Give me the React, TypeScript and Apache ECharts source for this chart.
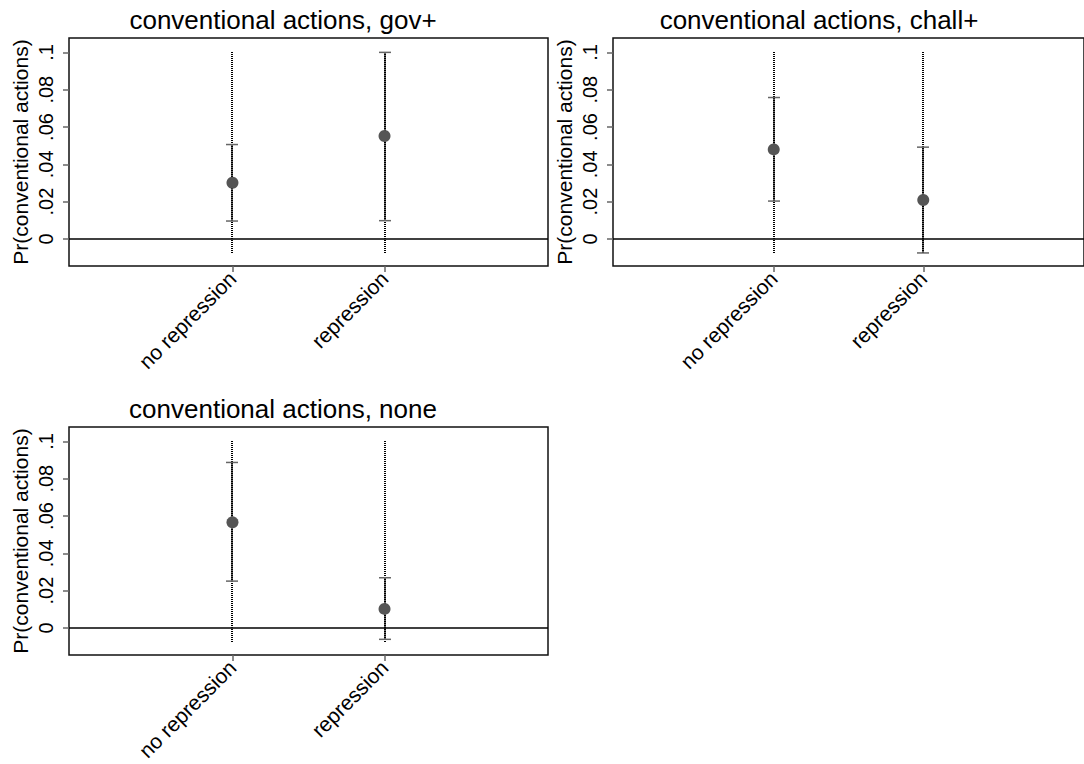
import React, { useEffect, useRef } from "react";
import * as echarts from "echarts";

const categories = ["no repression", "repression"];
const panelTitles = [
  "conventional actions, gov+",
  "conventional actions, chall+",
  "conventional actions, none",
];
const yAxisTitle = "Pr(conventional actions)";
const yTickValues = [0, 0.02, 0.04, 0.06, 0.08, 0.1];

// point estimates
const estGov = [0.0301, 0.0552];
const estChall = [0.048, 0.0209];
const estNone = [0.0566, 0.0102];
// inner interval (capped)
const ciLowGov = [0.0096, 0.0098];
const ciHighGov = [0.0506, 0.1];
const ciLowChall = [0.0203, -0.0075];
const ciHighChall = [0.0758, 0.0492];
const ciLowNone = [0.0251, -0.0061];
const ciHighNone = [0.0887, 0.0269];
// outer (dotted) interval
const wideLowGov = [-0.0077, -0.0077];
const wideHighGov = [0.1, 0.1];
const wideLowChall = [-0.0075, -0.0075];
const wideHighChall = [0.1, 0.1];
const wideLowNone = [-0.0073, -0.0073];
const wideHighNone = [0.1, 0.1];

const FONT = "'Liberation Sans', Arial, Helvetica, sans-serif";

const panels = [
  { title: panelTitles[0], est: estGov, cl: ciLowGov, ch: ciHighGov, wl: wideLowGov, wh: wideHighGov, left: 69, top: 38, titleX: 278 },
  { title: panelTitles[1], est: estChall, cl: ciLowChall, ch: ciHighChall, wl: wideLowChall, wh: wideHighChall, left: 613, top: 38, titleX: 814 },
  { title: panelTitles[2], est: estNone, cl: ciLowNone, ch: ciHighNone, wl: wideLowNone, wh: wideHighNone, left: 69, top: 427, titleX: 278 },
];

function fmtTick(v: number): string {
  if (Math.abs(v) < 1e-9) return "0";
  const s = String(Math.round(v * 1000) / 1000);
  return s.replace(/^0/, "");
}

export default function App() {
  const ref = useRef<HTMLDivElement>(null);
  useEffect(() => {
    if (!ref.current) return;
    const chart = echarts.init(ref.current, undefined, { renderer: "svg" });
    const grid: any[] = [];
    const xAxis: any[] = [];
    const yAxis: any[] = [];
    const series: any[] = [];
    const title: any[] = [];
    panels.forEach((p, i) => {
      grid.push({
        left: p.left,
        top: p.top,
        width: 479,
        height: 228,
        show: true,
        borderColor: "#111",
        borderWidth: 1.5,
        backgroundColor: "#fff",
        containLabel: false,
      });
      title.push({
        text: p.title,
        left: p.titleX,
        top: p.top - 36,
        textAlign: "center",
        textStyle: { fontFamily: FONT, fontSize: 26, fontWeight: "normal", color: "#000" },
      });
      xAxis.push({
        type: "value",
        gridIndex: i,
        position: "bottom",
        min: -1.075,
        max: 2.075,
        axisLine: { show: false, onZero: false },
        splitLine: { show: false },
        axisTick: {
          show: true,
          customValues: [0, 1],
          length: 6,
          lineStyle: { color: "#666", width: 1.5 },
        },
        axisLabel: {
          customValues: [0, 1],
          formatter: (v: number) => categories[Math.round(v)] ?? "",
          rotate: 45,
          fontSize: 21,
          fontFamily: FONT,
          color: "#000",
          margin: 9,
        },
      });
      yAxis.push({
        type: "value",
        gridIndex: i,
        position: "left",
        min: -0.0145,
        max: 0.1077,
        name: yAxisTitle,
        nameLocation: "middle",
        nameRotate: 90,
        nameGap: 38,
        nameTextStyle: { fontFamily: FONT, fontSize: 21, color: "#000" },
        axisLine: { show: false, onZero: false },
        splitLine: { show: false },
        axisTick: {
          show: true,
          customValues: yTickValues,
          length: 6,
          lineStyle: { color: "#666", width: 1.5 },
        },
        axisLabel: {
          customValues: yTickValues,
          formatter: fmtTick,
          rotate: 90,
          fontSize: 20,
          fontFamily: FONT,
          color: "#000",
          margin: 13,
        },
      });
      const barData = categories.map((_, k) => [k, p.wl[k], p.wh[k], p.cl[k], p.ch[k]]);
      series.push({
        type: "custom",
        xAxisIndex: i,
        yAxisIndex: i,
        data: barData,
        encode: { x: 0, y: [1, 2, 3, 4] },
        z: 2,
        renderItem: (params: any, api: any) => {
          const x = api.value(0);
          const c = (v: number) => api.coord([x, v]);
          const wl = c(api.value(1));
          const wh = c(api.value(2));
          const cl = c(api.value(3));
          const ch = c(api.value(4));
          const px = Math.round(wl[0]);
          const capHalf = 6;
          return {
            type: "group",
            children: [
              {
                type: "line",
                shape: { x1: px, y1: cl[1], x2: px, y2: ch[1] },
                style: { stroke: "#333", lineWidth: 1.5 },
              },
              {
                type: "line",
                shape: { x1: px, y1: Math.round(wl[1]), x2: px, y2: Math.round(wh[1]) },
                style: { stroke: "#000", lineWidth: 2, lineDash: [1, 1] },
              },
              {
                type: "line",
                shape: { x1: px - capHalf, y1: cl[1], x2: px + capHalf, y2: cl[1] },
                style: { stroke: "#666", lineWidth: 1.5 },
              },
              {
                type: "line",
                shape: { x1: px - capHalf, y1: ch[1], x2: px + capHalf, y2: ch[1] },
                style: { stroke: "#666", lineWidth: 1.5 },
              },
            ],
          };
        },
        markLine: {
          silent: true,
          symbol: ["none", "none"],
          label: { show: false },
          lineStyle: { color: "#000", type: "solid", width: 1.5 },
          data: [{ yAxis: 0 }],
        },
      });
      series.push({
        type: "scatter",
        xAxisIndex: i,
        yAxisIndex: i,
        symbol: "circle",
        symbolSize: 12,
        itemStyle: { color: "#555", opacity: 1 },
        z: 3,
        data: categories.map((_, k) => [k, p.est[k]]),
      });
    });
    chart.setOption({
      animation: false,
      backgroundColor: "#fff",
      title,
      grid,
      xAxis,
      yAxis,
      series,
    });
    return () => chart.dispose();
  }, []);
  return (
    <div
      ref={ref}
      style={{ position: "absolute", left: 0, top: 0, width: 1084, height: 764 }}
    />
  );
}
